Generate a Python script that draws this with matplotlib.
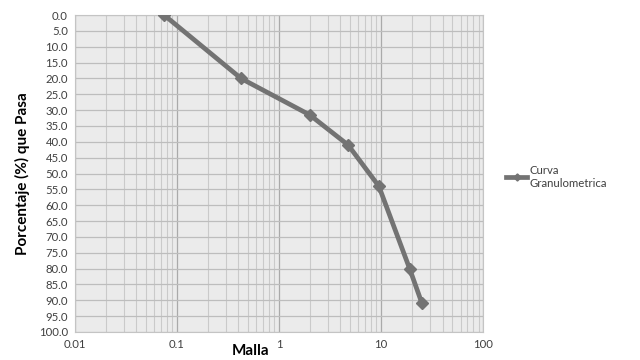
import matplotlib
matplotlib.use("Agg")
import matplotlib.pyplot as plt
from matplotlib.ticker import LogLocator, FixedLocator, FuncFormatter

plt.rcParams["font.family"] = ["Lato", "DejaVu Sans"]

malla = [0.075, 0.425, 2.0, 4.75, 9.5, 19.0, 25.0]
pasa = [0.0, 20.0, 31.5, 41.0, 54.0, 80.0, 90.8]
yticks = [i * 5.0 for i in range(21)]
xticks = [0.01, 0.1, 1, 10, 100]
xlabels = ["0.01", "0.1", "1", "10", "100"]

fig = plt.figure(figsize=(6.4, 3.6), dpi=100)
ax = fig.add_axes([0.117, 0.078, 0.638, 0.880])
ax.set_facecolor("#ebebeb")

ax.plot(malla, pasa, "-D", color="#737373", lw=3.4, ms=6,
        label="Curva\nGranulometrica", zorder=3)

ax.set_xscale("log")
ax.set_xlim(0.01, 100)
ax.set_ylim(100, 0)
ax.xaxis.set_major_locator(FixedLocator(xticks))
ax.xaxis.set_major_formatter(FuncFormatter(lambda v, p: xlabels[xticks.index(v)] if v in xticks else ""))
ax.xaxis.set_minor_locator(LogLocator(base=10, subs=range(2, 10)))
ax.xaxis.set_minor_formatter(FuncFormatter(lambda v, p: ""))
ax.set_yticks(yticks)
ax.set_yticklabels([f"{v:.1f}" for v in yticks])

ax.grid(which="major", axis="x", color="#aaaaaa", lw=0.9)
ax.grid(which="minor", axis="x", color="#cacaca", lw=0.8)
ax.grid(which="major", axis="y", color="#bdbdbd", lw=0.9)
ax.tick_params(which="both", length=0, labelsize=8.2, colors="#404040", pad=5)
for s in ax.spines.values():
    s.set_color("#c4c4c4")
    s.set_linewidth(0.8)

ax.set_xlabel("Malla", fontsize=11, fontweight="bold")
ax.xaxis.set_label_coords(0.43, -0.038)
ax.set_ylabel("Porcentaje (%) que Pasa", fontsize=11, fontweight="bold", labelpad=6)

ax.legend(loc="upper left", bbox_to_anchor=(1.03, 0.56), frameon=False,
          fontsize=8.2, handlelength=1.9, markerscale=0.6, handletextpad=0.2,
          labelcolor="#404040")

fig.savefig("out.png", dpi=100, facecolor="white")
